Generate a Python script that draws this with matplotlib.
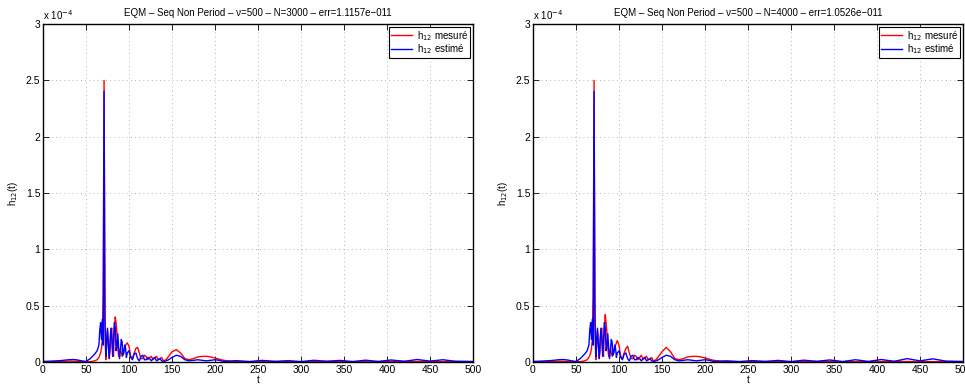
import numpy as np
import matplotlib.pyplot as plt

plt.rcParams['font.family'] = ['Liberation Sans', 'DejaVu Sans']
plt.rcParams['font.size'] = 7

# ---- data (units of 1e-4) ----
t_mes = [0, 10, 20, 30, 40, 50, 55, 60, 63, 65, 67, 68, 69, 70, 71, 72, 73, 74, 75, 76,
         77, 78, 79, 80, 81, 82, 83, 84, 85, 86, 87, 88, 89, 90, 92, 94, 96, 98, 100, 102,
         104, 106, 108, 110, 112, 114, 116, 118, 120, 122, 124, 126, 128, 130, 132, 134, 136, 138, 140, 143,
         146, 150, 155, 160, 165, 170, 175, 180, 185, 190, 195, 200, 205, 210, 220,
         240, 260, 280, 300, 320, 340, 360, 380, 400, 420, 440, 460, 480, 500]
h_mes_1 = [0.002, 0.003, 0.005, 0.008, 0.006, 0.002, 0.003, 0.01, 0.02, 0.04, 0.08, 0.12, 0.2, 0.6, 2.5, 0.5, 0.02, 0.15, 0.28, 0.15,
           0.03, 0.1, 0.28, 0.3, 0.1, 0.05, 0.3, 0.4, 0.35, 0.25, 0.12, 0.05, 0.08, 0.12, 0.05, 0.1, 0.15, 0.17, 0.14, 0.05,
           0.03, 0.08, 0.12, 0.13, 0.08, 0.03, 0.03, 0.06, 0.05, 0.02, 0.04, 0.05, 0.02, 0.04, 0.05, 0.02, 0.03, 0.04, 0.01, 0.02,
           0.05, 0.09, 0.11, 0.08, 0.03, 0.02, 0.03, 0.045, 0.05, 0.05, 0.045, 0.035, 0.025, 0.015, 0.005,
           0.003, 0.006, 0.004, 0.002, 0.005, 0.006, 0.003, 0.002, 0.005, 0.006, 0.004, 0.003, 0.005, 0.004]
h_mes_2 = [0.002, 0.003, 0.004, 0.007, 0.005, 0.002, 0.003, 0.01, 0.02, 0.04, 0.08, 0.12, 0.2, 0.6, 2.5, 0.5, 0.02, 0.15, 0.28, 0.15,
           0.03, 0.1, 0.28, 0.3, 0.1, 0.05, 0.3, 0.42, 0.35, 0.25, 0.12, 0.05, 0.08, 0.12, 0.05, 0.1, 0.15, 0.19, 0.15, 0.05,
           0.03, 0.08, 0.12, 0.14, 0.08, 0.03, 0.03, 0.06, 0.05, 0.02, 0.04, 0.06, 0.02, 0.04, 0.05, 0.02, 0.03, 0.04, 0.01, 0.02,
           0.05, 0.09, 0.13, 0.09, 0.03, 0.02, 0.03, 0.045, 0.05, 0.05, 0.045, 0.035, 0.025, 0.015, 0.005,
           0.003, 0.005, 0.004, 0.002, 0.004, 0.005, 0.003, 0.002, 0.004, 0.005, 0.004, 0.003, 0.004, 0.004]

t_est = [0, 10, 20, 30, 35, 40, 45, 50, 55, 60, 63, 65, 66, 67, 68, 69, 70, 71, 72, 73,
         74, 75, 76, 77, 78, 79, 80, 81, 82, 83, 84, 85, 86, 87, 88, 89, 90, 91, 92, 93,
         94, 95, 96, 97, 98, 100, 102, 104, 106, 108, 110, 112, 114, 116, 118, 120, 122, 124, 126, 128,
         130, 132, 134, 136, 138, 140, 143, 146, 150, 155, 160, 165, 170, 175, 180, 185, 190, 195, 200, 205,
         210, 225, 240, 255, 270, 285, 300, 315, 330, 345, 360, 375, 390, 405, 420, 435, 450, 465, 480, 500]
h_est_1 = [0.005, 0.008, 0.012, 0.02, 0.022, 0.018, 0.01, 0.005, 0.03, 0.07, 0.1, 0.15, 0.28, 0.35, 0.2, 0.38, 0.15, 2.4, 0.35, 0.05,
           0.2, 0.3, 0.15, 0.03, 0.2, 0.3, 0.2, 0.05, 0.2, 0.35, 0.3, 0.1, 0.15, 0.25, 0.12, 0.03, 0.1, 0.2, 0.18, 0.06,
           0.08, 0.15, 0.12, 0.04, 0.08, 0.1, 0.04, 0.02, 0.07, 0.08, 0.03, 0.01, 0.05, 0.06, 0.02, 0.02, 0.04, 0.03, 0.01, 0.03,
           0.04, 0.01, 0.02, 0.03, 0.01, 0.005, 0.01, 0.02, 0.04, 0.06, 0.05, 0.02, 0.01, 0.015, 0.02, 0.015, 0.01, 0.015, 0.02, 0.015,
           0.005, 0.012, 0.004, 0.014, 0.005, 0.012, 0.004, 0.015, 0.006, 0.014, 0.004, 0.016, 0.005, 0.018, 0.006, 0.022, 0.008, 0.02, 0.006, 0.004]
h_est_2 = [0.005, 0.008, 0.012, 0.02, 0.022, 0.018, 0.01, 0.005, 0.03, 0.07, 0.1, 0.15, 0.28, 0.35, 0.2, 0.38, 0.15, 2.4, 0.35, 0.05,
           0.2, 0.3, 0.15, 0.03, 0.2, 0.3, 0.2, 0.05, 0.2, 0.35, 0.3, 0.1, 0.15, 0.25, 0.12, 0.03, 0.1, 0.2, 0.18, 0.06,
           0.08, 0.15, 0.12, 0.04, 0.08, 0.1, 0.04, 0.02, 0.07, 0.08, 0.03, 0.01, 0.05, 0.06, 0.02, 0.02, 0.04, 0.03, 0.01, 0.03,
           0.04, 0.01, 0.02, 0.03, 0.01, 0.005, 0.01, 0.02, 0.04, 0.06, 0.05, 0.02, 0.01, 0.015, 0.02, 0.015, 0.01, 0.015, 0.02, 0.015,
           0.005, 0.01, 0.004, 0.012, 0.005, 0.014, 0.004, 0.016, 0.006, 0.018, 0.004, 0.02, 0.005, 0.022, 0.006, 0.03, 0.01, 0.028, 0.008, 0.004]

titles = ['EQM \u2013 Seq Non Period \u2013 \u03bd=500 \u2013 N=3000 \u2013 err=1.1157e\u2212011',
          'EQM \u2013 Seq Non Period \u2013 \u03bd=500 \u2013 N=4000 \u2013 err=1.0526e\u2212011']
h_mes_all = [h_mes_1, h_mes_2]
h_est_all = [h_est_1, h_est_2]

fig = plt.figure(figsize=(9.65, 3.9), dpi=100)
lefts = [43 / 965, 533 / 965]

for i in range(2):
    ax = fig.add_axes([lefts[i], 28 / 390, 430 / 965, 338 / 390])
    ax.plot(t_mes, h_mes_all[i], color='red', lw=1.0, label='h$_{12}$ mesuré')
    ax.plot(t_est, h_est_all[i], color='blue', lw=1.0, label='h$_{12}$ estimé')
    ax.set_xlim(0, 500)
    ax.set_ylim(0, 3)
    ax.set_xticks(np.arange(0, 501, 50))
    ax.set_yticks(np.arange(0, 3.01, 0.5))
    ax.set_yticklabels(['0', '0.5', '1', '1.5', '2', '2.5', '3'])
    ax.grid(True, linestyle=(0, (1, 4)), color='#999999', lw=0.6)
    ax.tick_params(direction='in', top=True, right=True, length=4, width=0.6, pad=2, labelsize=7.5)
    for s in ax.spines.values():
        s.set_linewidth(1.0)
    ax.set_title(titles[i], fontsize=7, pad=6)
    ax.set_xlabel('t', labelpad=0)
    ax.set_ylabel('h$_{12}$(t)', labelpad=4)
    ax.text(0.0, 1.005, 'x 10$^{-4}$', transform=ax.transAxes, fontsize=7, va='bottom', ha='left')
    leg = ax.legend(loc='upper right', fontsize=7, fancybox=False, framealpha=1, edgecolor='black',
                    handlelength=2.2, handletextpad=0.5, borderpad=0.2, labelspacing=0.0,
                    borderaxespad=0.3)
    leg.get_frame().set_linewidth(0.8)

fig.savefig('out.png', dpi=100)
